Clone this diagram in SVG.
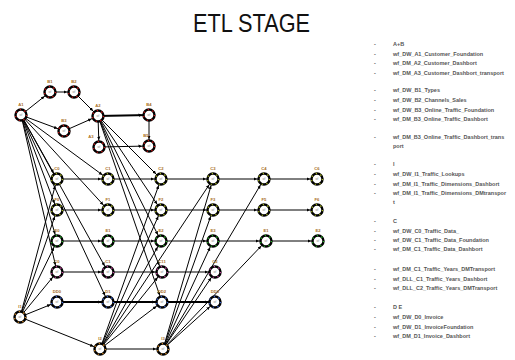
<svg xmlns="http://www.w3.org/2000/svg" width="515" height="360" viewBox="0 0 515 360">
  <defs>
    <marker id="arr" markerUnits="userSpaceOnUse" markerWidth="14" markerHeight="6" viewBox="0 -3 14 6" refX="10.5" refY="0" orient="auto">
      <path d="M0,-1.7 L3.6,0 L0,1.7 z" fill="#000"/>
    </marker>
    <style>
      .title { font-family: "Liberation Sans", Arial, sans-serif; font-size: 26px; fill: #111; }
      .edges line { stroke: #000; stroke-width: 1; marker-end: url(#arr); }
      .edges line.thick { stroke-width: 2; }
      .node .ring { fill: #fff; stroke: #000; stroke-width: 2.4; }
      .node .dots { fill: none; stroke-width: 1.3; stroke-dasharray: 1.2 3.6; }
      .node .lbl { font-family: "Liberation Sans", Arial, sans-serif; font-size: 4.2px; font-weight: bold; fill: #a86d1c; text-anchor: middle; }
      .node .in { font-family: "Liberation Sans", Arial, sans-serif; font-size: 2.8px; fill: #888; text-anchor: middle; }
      .red .dots { stroke: #d41515; }
      .lime .dots { stroke: #a8b820; }
      .green .dots { stroke: #22b022; }
      .mag .dots { stroke: #c0409c; }
      .blue .dots { stroke: #3a64d4; }
      .orange .dots { stroke: #d88a20; }
      .legend text { font-family: "Liberation Sans", Arial, sans-serif; font-size: 5.5px; font-weight: bold; fill: #555; }
      .legend .b { fill: #666; }
    </style>
  </defs>

  <rect width="515" height="360" fill="#fff"/>

  <text class="title" x="193" y="32" textLength="117" lengthAdjust="spacingAndGlyphs">ETL STAGE</text>

  <!-- connectors -->
  <g id="connectors" class="edges">
    <!-- upper workflow -->
    <line x1="21" y1="115" x2="50" y2="92"/>
    <line x1="50" y1="92" x2="74" y2="92"/>
    <line x1="74" y1="92" x2="98" y2="116"/>
    <line x1="21" y1="115" x2="64" y2="131"/>
    <line x1="64" y1="131" x2="98" y2="116"/>
    <line class="thick" x1="98" y1="116" x2="149" y2="115"/>
    <line x1="149" y1="115" x2="149" y2="146"/>
    <line x1="98" y1="116" x2="99" y2="147"/>
    <line x1="99" y1="147" x2="149" y2="146"/>

    <!-- row chains -->
    <line x1="57" y1="179" x2="108" y2="179"/>
    <line x1="108" y1="179" x2="161" y2="179"/>
    <line x1="161" y1="179" x2="213" y2="179"/>
    <line x1="213" y1="179" x2="264" y2="179"/>
    <line x1="264" y1="179" x2="317" y2="179"/>

    <line x1="57" y1="210" x2="108" y2="210"/>
    <line x1="108" y1="210" x2="161" y2="210"/>
    <line x1="161" y1="210" x2="213" y2="210"/>
    <line x1="213" y1="210" x2="264" y2="210"/>
    <line x1="264" y1="210" x2="317" y2="210"/>

    <line x1="57" y1="241" x2="108" y2="241"/>
    <line x1="108" y1="241" x2="161" y2="241"/>
    <line x1="161" y1="241" x2="213" y2="241"/>
    <line x1="213" y1="241" x2="266" y2="241"/>
    <line x1="266" y1="241" x2="318" y2="241"/>

    <line x1="57" y1="272" x2="108" y2="272"/>
    <line x1="108" y1="272" x2="162" y2="272"/>
    <line x1="162" y1="272" x2="215" y2="272"/>

    <line class="thick" x1="57" y1="302" x2="108" y2="302"/>
    <line class="thick" x1="108" y1="302" x2="162" y2="302"/>
    <line class="thick" x1="162" y1="302" x2="215" y2="302"/>

    <line x1="20" y1="317" x2="100" y2="349"/>
    <line x1="100" y1="349" x2="163" y2="349"/>

    <!-- fan from A1 -->
    <line x1="21" y1="115" x2="57" y2="179"/>
    <line x1="21" y1="115" x2="57" y2="210"/>
    <line x1="21" y1="115" x2="57" y2="241"/>
    <line x1="21" y1="115" x2="57" y2="272"/>
    <line x1="21" y1="115" x2="108" y2="179"/>
    <line x1="21" y1="115" x2="108" y2="210"/>
    <line x1="21" y1="115" x2="108" y2="272"/>
    <line x1="21" y1="115" x2="108" y2="302"/>

    <!-- fan from A2 -->
    <line x1="98" y1="116" x2="161" y2="179"/>
    <line x1="98" y1="116" x2="161" y2="210"/>
    <line x1="98" y1="116" x2="161" y2="241"/>
    <line x1="98" y1="116" x2="162" y2="272"/>
    <line x1="98" y1="116" x2="162" y2="302"/>

    <!-- fan from I1 -->
    <line x1="20" y1="317" x2="57" y2="179"/>
    <line x1="20" y1="317" x2="57" y2="210"/>
    <line x1="20" y1="317" x2="57" y2="241"/>
    <line x1="20" y1="317" x2="57" y2="272"/>
    <line x1="20" y1="317" x2="57" y2="302"/>

    <!-- fan from I2 -->
    <line x1="100" y1="349" x2="161" y2="179"/>
    <line x1="100" y1="349" x2="161" y2="210"/>
    <line x1="100" y1="349" x2="161" y2="241"/>
    <line x1="100" y1="349" x2="162" y2="272"/>
    <line x1="100" y1="349" x2="162" y2="302"/>
    <line x1="100" y1="349" x2="213" y2="179"/>

    <!-- fan from I3 -->
    <line x1="163" y1="349" x2="213" y2="179"/>
    <line x1="163" y1="349" x2="213" y2="210"/>
    <line x1="163" y1="349" x2="213" y2="241"/>
    <line x1="163" y1="349" x2="215" y2="272"/>
    <line x1="163" y1="349" x2="215" y2="302"/>
    <line x1="163" y1="349" x2="266" y2="241"/>
    <line x1="163" y1="349" x2="264" y2="179"/>
  </g>

  <!-- workflow nodes -->
  <g id="A1" class="node red" transform="translate(21,115)"><circle class="ring" r="5.5"/><circle class="dots" r="5.5"/><text class="lbl" y="-9">A1</text><text class="in" y="1">wf</text></g>
  <g id="B1" class="node red" transform="translate(50,92)"><circle class="ring" r="5.5"/><circle class="dots" r="5.5"/><text class="lbl" y="-9">B1</text><text class="in" y="1">wf</text></g>
  <g id="B2" class="node red" transform="translate(74,92)"><circle class="ring" r="5.5"/><circle class="dots" r="5.5"/><text class="lbl" y="-9">B2</text><text class="in" y="1">wf</text></g>
  <g id="B3" class="node red" transform="translate(64,131)"><circle class="ring" r="5.5"/><circle class="dots" r="5.5"/><text class="lbl" y="-9">B3</text><text class="in" y="1">wf</text></g>
  <g id="A2" class="node red" transform="translate(98,116)"><circle class="ring" r="5.5"/><circle class="dots" r="5.5"/><text class="lbl" y="-9">A2</text><text class="in" y="1">wf</text></g>
  <g id="A3" class="node red" transform="translate(99,147)"><circle class="ring" r="5.5"/><circle class="dots" r="5.5"/><text class="lbl" x="-8" y="-9">A3</text><text class="in" y="1">wf</text></g>
  <g id="B4" class="node red" transform="translate(149,115)"><circle class="ring" r="5.5"/><circle class="dots" r="5.5"/><text class="lbl" y="-9">B4</text><text class="in" y="1">wf</text></g>
  <g id="B5" class="node red" transform="translate(149,146)"><circle class="ring" r="5.5"/><circle class="dots" r="5.5"/><text class="lbl" x="-3" y="-9">B5</text><text class="in" y="1">wf</text></g>

  <g id="C0" class="node lime" transform="translate(57,179)"><circle class="ring" r="5.5"/><circle class="dots" r="5.5"/><text class="lbl" y="-9">C0</text><text class="in" y="1">wf</text></g>
  <g id="C1" class="node lime" transform="translate(108,179)"><circle class="ring" r="5.5"/><circle class="dots" r="5.5"/><text class="lbl" y="-9">C1</text><text class="in" y="1">wf</text></g>
  <g id="C2" class="node lime" transform="translate(161,179)"><circle class="ring" r="5.5"/><circle class="dots" r="5.5"/><text class="lbl" y="-9">C2</text><text class="in" y="1">wf</text></g>
  <g id="C3" class="node lime" transform="translate(213,179)"><circle class="ring" r="5.5"/><circle class="dots" r="5.5"/><text class="lbl" y="-9">C3</text><text class="in" y="1">wf</text></g>
  <g id="C4" class="node lime" transform="translate(264,179)"><circle class="ring" r="5.5"/><circle class="dots" r="5.5"/><text class="lbl" y="-9">C4</text><text class="in" y="1">wf</text></g>
  <g id="C5" class="node lime" transform="translate(317,179)"><circle class="ring" r="5.5"/><circle class="dots" r="5.5"/><text class="lbl" y="-9">C6</text><text class="in" y="1">wf</text></g>

  <g id="F0" class="node lime" transform="translate(57,210)"><circle class="ring" r="5.5"/><circle class="dots" r="5.5"/><text class="lbl" y="-9">F0</text><text class="in" y="1">wf</text></g>
  <g id="F1" class="node lime" transform="translate(108,210)"><circle class="ring" r="5.5"/><circle class="dots" r="5.5"/><text class="lbl" y="-9">F1</text><text class="in" y="1">wf</text></g>
  <g id="F2" class="node lime" transform="translate(161,210)"><circle class="ring" r="5.5"/><circle class="dots" r="5.5"/><text class="lbl" y="-9">F2</text><text class="in" y="1">wf</text></g>
  <g id="F3" class="node lime" transform="translate(213,210)"><circle class="ring" r="5.5"/><circle class="dots" r="5.5"/><text class="lbl" y="-9">F3</text><text class="in" y="1">wf</text></g>
  <g id="F4" class="node lime" transform="translate(264,210)"><circle class="ring" r="5.5"/><circle class="dots" r="5.5"/><text class="lbl" y="-9">F5</text><text class="in" y="1">wf</text></g>
  <g id="F5" class="node lime" transform="translate(317,210)"><circle class="ring" r="5.5"/><circle class="dots" r="5.5"/><text class="lbl" y="-9">F6</text><text class="in" y="1">wf</text></g>

  <g id="E0" class="node green" transform="translate(57,241)"><circle class="ring" r="5.5"/><circle class="dots" r="5.5"/><text class="lbl" y="-9">E0</text><text class="in" y="1">wf</text></g>
  <g id="E1" class="node green" transform="translate(108,241)"><circle class="ring" r="5.5"/><circle class="dots" r="5.5"/><text class="lbl" y="-9">E1</text><text class="in" y="1">wf</text></g>
  <g id="E2" class="node green" transform="translate(161,241)"><circle class="ring" r="5.5"/><circle class="dots" r="5.5"/><text class="lbl" y="-9">E2</text><text class="in" y="1">wf</text></g>
  <g id="E3" class="node green" transform="translate(213,241)"><circle class="ring" r="5.5"/><circle class="dots" r="5.5"/><text class="lbl" y="-9">E3</text><text class="in" y="1">wf</text></g>
  <g id="E4" class="node green" transform="translate(266,241)"><circle class="ring" r="5.5"/><circle class="dots" r="5.5"/><text class="lbl" y="-9">E1</text><text class="in" y="1">wf</text></g>
  <g id="E5" class="node green" transform="translate(318,241)"><circle class="ring" r="5.5"/><circle class="dots" r="5.5"/><text class="lbl" y="-9">E2</text><text class="in" y="1">wf</text></g>

  <g id="G0" class="node mag" transform="translate(57,272)"><circle class="ring" r="5.5"/><circle class="dots" r="5.5"/><text class="lbl" y="-9">C0</text><text class="in" y="1">wf</text></g>
  <g id="G1" class="node mag" transform="translate(108,272)"><circle class="ring" r="5.5"/><circle class="dots" r="5.5"/><text class="lbl" y="-9">C1</text><text class="in" y="1">wf</text></g>
  <g id="G2" class="node mag" transform="translate(162,272)"><circle class="ring" r="5.5"/><circle class="dots" r="5.5"/><text class="lbl" y="-9">C11</text><text class="in" y="1">wf</text></g>
  <g id="G3" class="node mag" transform="translate(215,272)"><circle class="ring" r="5.5"/><circle class="dots" r="5.5"/><text class="lbl" y="-9">C2</text><text class="in" y="1">wf</text></g>

  <g id="D0" class="node blue" transform="translate(57,302)"><circle class="ring" r="5.5"/><circle class="dots" r="5.5"/><text class="lbl" y="-9">DD0</text><text class="in" y="1">wf</text></g>
  <g id="D1" class="node blue" transform="translate(108,302)"><circle class="ring" r="5.5"/><circle class="dots" r="5.5"/><text class="lbl" y="-9">D1</text><text class="in" y="1">wf</text></g>
  <g id="D2" class="node blue" transform="translate(162,302)"><circle class="ring" r="5.5"/><circle class="dots" r="5.5"/><text class="lbl" y="-9">DD2</text><text class="in" y="1">wf</text></g>
  <g id="D3" class="node blue" transform="translate(215,302)"><circle class="ring" r="5.5"/><circle class="dots" r="5.5"/><text class="lbl" y="-9">DD3</text><text class="in" y="1">wf</text></g>

  <g id="I1" class="node orange" transform="translate(20,317)"><circle class="ring" r="5.5"/><circle class="dots" r="5.5"/><text class="lbl" y="-9">I1</text><text class="in" y="1">wf</text></g>
  <g id="I2" class="node orange" transform="translate(100,349)"><circle class="ring" r="5.5"/><circle class="dots" r="5.5"/><text class="lbl" y="-9">I2</text><text class="in" y="1">wf</text></g>
  <g id="I3" class="node orange" transform="translate(163,349)"><circle class="ring" r="5.5"/><circle class="dots" r="5.5"/><text class="lbl" y="-9">I3</text><text class="in" y="1">wf</text></g>

  <!-- workflow list -->
  <g id="legend" class="legend">
    <g class="b">
      <text x="374" y="46">-</text><text x="374" y="56">-</text><text x="374" y="65">-</text><text x="374" y="75">-</text>
      <text x="374" y="92">-</text><text x="374" y="102">-</text><text x="374" y="112">-</text><text x="374" y="121">-</text>
      <text x="374" y="139">-</text>
      <text x="374" y="166">-</text><text x="374" y="176">-</text><text x="374" y="186">-</text><text x="374" y="195">-</text>
      <text x="374" y="223">-</text><text x="374" y="233">-</text><text x="374" y="242">-</text><text x="374" y="251">-</text>
      <text x="374" y="271">-</text><text x="374" y="281">-</text><text x="374" y="290">-</text>
      <text x="374" y="309">-</text><text x="374" y="319">-</text><text x="374" y="329">-</text><text x="374" y="338">-</text>
    </g>
    <text x="393" y="46">A+B</text>
    <text x="393" y="56">wf_DW_A1_Customer_Foundation</text>
    <text x="393" y="65">wf_DM_A2_Customer_Dashbort</text>
    <text x="393" y="75">wf_DM_A3_Customer_Dashbort_transport</text>
    <text x="393" y="92">wf_DW_B1_Types</text>
    <text x="393" y="102">wf_DW_B2_Channels_Sales</text>
    <text x="393" y="112">wf_DW_B3_Online_Traffic_Foundation</text>
    <text x="393" y="121">wf_DM_B3_Online_Traffic_Dashbort</text>
    <text x="393" y="139">wf_DM_B3_Online_Traffic_Dashbort_trans</text>
    <text x="393" y="148">port</text>
    <text x="393" y="166">I</text>
    <text x="393" y="176">wf_DW_I1_Traffic_Lookups</text>
    <text x="393" y="186">wf_DM_I1_Traffic_Dimensions_Dashbort</text>
    <text x="393" y="195">wf_DM_I1_Traffic_Dimensions_DMtranspor</text>
    <text x="393" y="204">t</text>
    <text x="393" y="223">C</text>
    <text x="393" y="233">wf_DW_C0_Traffic_Data_</text>
    <text x="393" y="242">wf_DW_C1_Traffic_Data_Foundation</text>
    <text x="393" y="251">wf_DM_C1_Traffic_Data_Dashbort</text>
    <text x="393" y="271">wf_DM_C1_Traffic_Years_DMTransport</text>
    <text x="393" y="281">wf_DLL_C1_Traffic_Years_Dashbort</text>
    <text x="393" y="290">wf_DLL_C2_Traffic_Years_DMTransport</text>
    <text x="393" y="309">D  E</text>
    <text x="393" y="319">wf_DW_D0_Invoice</text>
    <text x="393" y="329">wf_DW_D1_InvoiceFoundation</text>
    <text x="393" y="338">wf_DM_D1_Invoice_Dashbort</text>
  </g>
</svg>
